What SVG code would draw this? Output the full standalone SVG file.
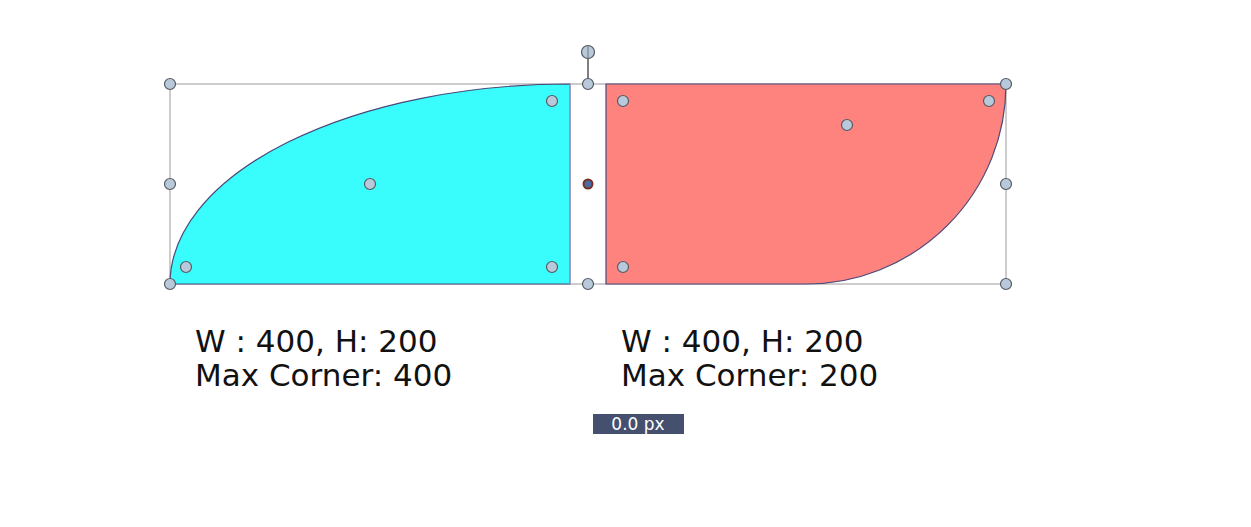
<svg xmlns="http://www.w3.org/2000/svg" width="1251" height="527" viewBox="0 0 1251 527">
<style>
.h{fill:#b9c9dc;stroke:#555a60;stroke-width:1.2}
.t{font-family:"DejaVu Sans",sans-serif;font-size:31px;fill:#111}
.sel{fill:none;stroke:#9a9a9a;stroke-width:1}
</style>
<rect width="1251" height="527" fill="#fff"/>
<g id="selection">
<rect class="sel" x="170" y="84" width="836" height="200"/>
<line x1="588" y1="52" x2="588" y2="84" stroke="#555" stroke-width="1.5"/>
</g>
<g id="left-shape">
<path d="M170,284 A400,200 0 0 1 570,84 L570,284 Z" fill="#38fdfc" stroke="#4a4a7a" stroke-width="1.2"/>
<line x1="570" y1="84" x2="570" y2="284" stroke="#a9a9d8" stroke-width="1.2"/>
</g>
<g id="right-shape">
<path d="M606,84 L1006,84 A200,200 0 0 1 806,284 L606,284 Z" fill="#fe827e" stroke="#4a4a7a" stroke-width="1.2"/>
</g>
<g id="handles">
<circle class="h" cx="170" cy="84" r="5.5"/>
<circle class="h" cx="170" cy="184" r="5.5"/>
<circle class="h" cx="170" cy="284" r="5.5"/>
<circle class="h" cx="1006" cy="84" r="5.5"/>
<circle class="h" cx="1006" cy="184" r="5.5"/>
<circle class="h" cx="1006" cy="284" r="5.5"/>
<circle class="h" cx="588" cy="84" r="5.5"/>
<circle class="h" cx="588" cy="284" r="5.5"/>
<circle class="h" cx="588" cy="52" r="6.5"/>
<line x1="588" y1="46" x2="588" y2="58" stroke="#777" stroke-width="1"/>
<circle cx="588" cy="184" r="4.5" fill="#4a6aa8" stroke="#7a3020" stroke-width="2"/>
<circle class="h" cx="186" cy="267" r="5.5"/>
<circle class="h" cx="552" cy="267" r="5.5"/>
<circle class="h" cx="552" cy="101" r="5.5"/>
<circle class="h" cx="370" cy="184" r="5.5"/>
<circle class="h" cx="623" cy="101" r="5.5"/>
<circle class="h" cx="623" cy="267" r="5.5"/>
<circle class="h" cx="989" cy="101" r="5.5"/>
<circle class="h" cx="847" cy="125" r="5.5"/>
</g>
<g id="left-label">
<text class="t" x="195" y="352">W : 400, H: 200</text>
<text class="t" x="195" y="386">Max Corner: 400</text>
</g>
<g id="right-label">
<text class="t" x="621" y="352">W : 400, H: 200</text>
<text class="t" x="621" y="386">Max Corner: 200</text>
</g>
<g id="px-label">
<rect x="593" y="414" width="91" height="20" fill="#45506e"/>
<text x="638" y="430" text-anchor="middle" font-family="DejaVu Sans, sans-serif" font-size="17" fill="#fff">0.0 px</text>
</g>
</svg>
